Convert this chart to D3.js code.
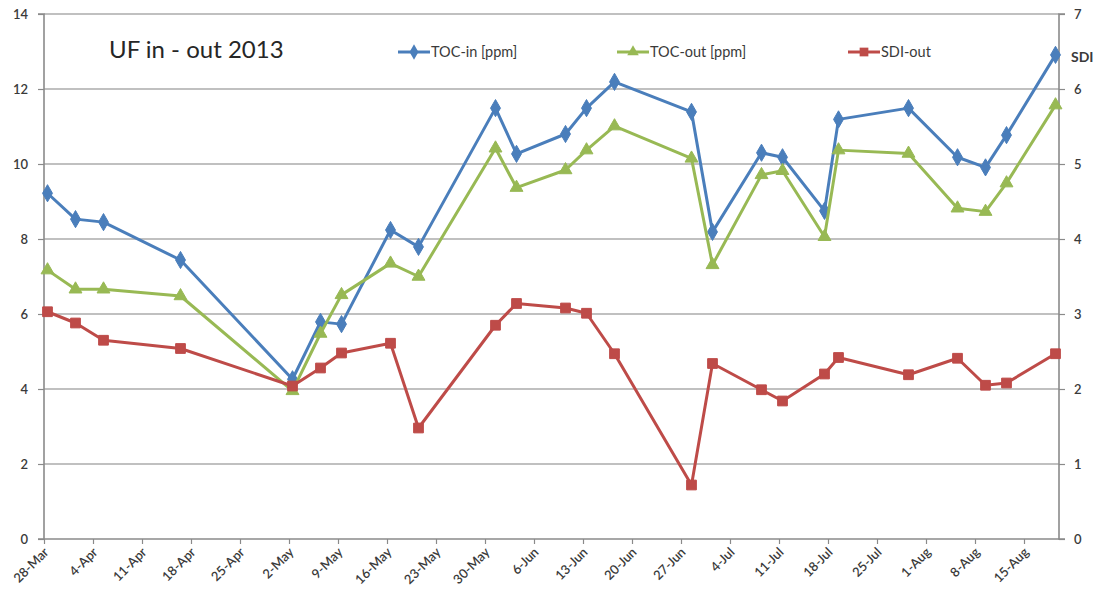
<!DOCTYPE html>
<html>
<head>
<meta charset="utf-8">
<script src="https://cdn.jsdelivr.net/npm/d3@7"></script>
<style>
  html, body { margin: 0; padding: 0; background: #fff; }
  svg { display: block; font-family: Lato, "Open Sans", sans-serif; }
</style>
</head>
<body>
<svg id="chart" width="1102" height="604"></svg>
<script>
// Sampling dates (2013)
const sampleDates = ["2013-03-28","2013-04-01","2013-04-05","2013-04-16","2013-05-02","2013-05-06",
  "2013-05-09","2013-05-16","2013-05-20","2013-05-31","2013-06-03","2013-06-10","2013-06-13",
  "2013-06-17","2013-06-28","2013-07-01","2013-07-08","2013-07-11","2013-07-17","2013-07-19",
  "2013-07-29","2013-08-05","2013-08-09","2013-08-12","2013-08-19"];

// TOC into the UF unit [ppm] (left axis)
const tocIn = [9.22, 8.53, 8.45, 7.44, 4.26, 5.79, 5.73, 8.24, 7.79, 11.49, 10.27, 10.8, 11.49,
  12.19, 11.39, 8.19, 10.3, 10.18, 8.75, 11.19, 11.49, 10.18, 9.91, 10.77, 12.91];

// TOC out of the UF unit [ppm] (left axis)
const tocOut = [7.17, 6.66, 6.66, 6.48, 3.95, 5.48, 6.51, 7.35, 7.0, 10.42, 9.37, 9.84, 10.37,
  11.01, 10.15, 7.31, 9.71, 9.82, 8.06, 10.37, 10.28, 8.82, 8.73, 9.49, 11.57];

// SDI of the UF permeate (right axis)
const sdiOut = [3.03, 2.88, 2.65, 2.54, 2.04, 2.28, 2.48, 2.61, 1.48, 2.85, 3.14, 3.08, 3.01,
  2.47, 0.72, 2.34, 1.99, 1.84, 2.2, 2.42, 2.19, 2.41, 2.05, 2.08, 2.47];

// Weekly date ticks on the x axis
const xTickLabels = ["28-Mar","4-Apr","11-Apr","18-Apr","25-Apr","2-May","9-May","16-May",
  "23-May","30-May","6-Jun","13-Jun","20-Jun","27-Jun","4-Jul","11-Jul","18-Jul","25-Jul",
  "1-Aug","8-Aug","15-Aug"];
const leftTicks = [0, 2, 4, 6, 8, 10, 12, 14];
const rightTicks = [0, 1, 2, 3, 4, 5, 6, 7];

const chartTitle = "UF in - out 2013";
const seriesNames = ["TOC-in [ppm]", "TOC-out [ppm]", "SDI-out"];
const rightAxisTitle = "SDI";
const axisStart = "2013-03-28";
const axisEnd = "2013-08-20";

const parseISO = d3.utcParse("%Y-%m-%d");
const parseTick = d3.utcParse("%d-%b-%Y");

const svg = d3.select("#chart");
const plotLeft = 44, plotRight = 1059, plotTop = 14, plotBottom = 539;

const x = d3.scaleUtc().domain([parseISO(axisStart), parseISO(axisEnd)]).range([plotLeft, plotRight]);
const yL = d3.scaleLinear().domain([0, 14]).range([plotBottom, plotTop]);
const yR = d3.scaleLinear().domain([0, 7]).range([plotBottom, plotTop]);

// each day occupies one slot; points sit in the middle of their day
const px = d => x(d3.utcHour.offset(d, 12));

const tickDates = xTickLabels.map(s => parseTick(s + "-2013"));
const dates = sampleDates.map(parseISO);

// horizontal gridlines
svg.append("g").selectAll("line").data(leftTicks.filter(v => v > 0)).join("line")
  .attr("x1", plotLeft).attr("x2", plotRight)
  .attr("y1", d => yL(d)).attr("y2", d => yL(d))
  .attr("stroke", "#ababab").attr("stroke-width", 1.6);

const textColor = "#3a3a3a";
const axisColor = "#8a8a8a";

// left axis
const gL = svg.append("g").attr("transform", `translate(${plotLeft},0)`)
  .call(d3.axisLeft(yL).tickValues(leftTicks).tickSize(6).tickPadding(10).tickFormat(d3.format("d")));
// right axis
const gR = svg.append("g").attr("transform", `translate(${plotRight},0)`)
  .call(d3.axisRight(yR).tickValues(rightTicks).tickSize(6).tickPadding(9).tickFormat(d3.format("d")));
// bottom axis
const gB = svg.append("g").attr("transform", `translate(0,${plotBottom})`)
  .call(d3.axisBottom(x).tickValues(tickDates).tickSize(5).tickFormat((d, i) => xTickLabels[i]));

[gL, gR, gB].forEach(g => {
  g.select(".domain").attr("stroke", axisColor).attr("stroke-width", 1.6);
  g.selectAll(".tick line").attr("stroke", axisColor).attr("stroke-width", 1.2);
  g.selectAll("text").attr("fill", textColor).attr("font-size", 13)
    .attr("font-family", "Lato, sans-serif").attr("font-weight", 600);
});
gL.select(".domain").attr("d", `M-6,${plotTop}H0V${plotBottom}H-6`);
gR.select(".domain").attr("d", `M6,${plotTop}H0V${plotBottom}H6`);
gB.select(".domain").attr("d", `M${plotLeft},0H${plotRight}`);
gB.selectAll(".tick text")
  .attr("text-anchor", "end")
  .attr("dy", null).attr("y", 0)
  .attr("transform", "translate(5,14) rotate(-45)");

// series
const series = [
  { name: seriesNames[0], values: tocIn, y: yL, color: "#4a7ebb", symbol: d3.symbolDiamond, size: 85 },
  { name: seriesNames[1], values: tocOut, y: yL, color: "#98b954", symbol: d3.symbolTriangle, size: 72 },
  { name: seriesNames[2], values: sdiOut, y: yR, color: "#be4b48", symbol: d3.symbolSquare, size: 95 }
];

series.forEach(s => {
  const pts = dates.map((d, i) => [px(d), s.y(s.values[i])]);
  svg.append("path").datum(pts)
    .attr("d", d3.line())
    .attr("fill", "none").attr("stroke", s.color)
    .attr("stroke-width", 3).attr("stroke-linejoin", "round");
  svg.append("g").selectAll("path").data(pts).join("path")
    .attr("transform", p => `translate(${p[0]},${p[1]})`)
    .attr("d", d3.symbol(s.symbol, s.size))
    .attr("fill", s.color).attr("stroke", s.color).attr("stroke-width", 1);
});

// title
svg.append("text").attr("x", 109).attr("y", 58)
  .attr("font-size", 24).attr("fill", "#262626")
  .attr("font-family", "Lato, sans-serif")
  .text(chartTitle);

// legend
const legendX = [398, 617, 848];
series.forEach((s, i) => {
  const g = svg.append("g").attr("transform", `translate(${legendX[i]},52)`);
  g.append("line").attr("x1", 0).attr("x2", 32).attr("stroke", s.color).attr("stroke-width", 3);
  g.append("path").attr("transform", "translate(16,0)")
    .attr("d", d3.symbol(s.symbol, s.size * 0.8)).attr("fill", s.color);
  g.append("text").attr("x", 33).attr("y", 5)
    .attr("font-size", 14.5).attr("fill", textColor)
    .attr("font-family", "Lato, sans-serif")
    .text(s.name);
});

// right axis title
svg.append("text").attr("x", 1071).attr("y", 62)
  .attr("font-size", 14).attr("font-weight", 700).attr("fill", textColor)
  .attr("font-family", "Lato, sans-serif")
  .text(rightAxisTitle);
</script>
</body>
</html>
